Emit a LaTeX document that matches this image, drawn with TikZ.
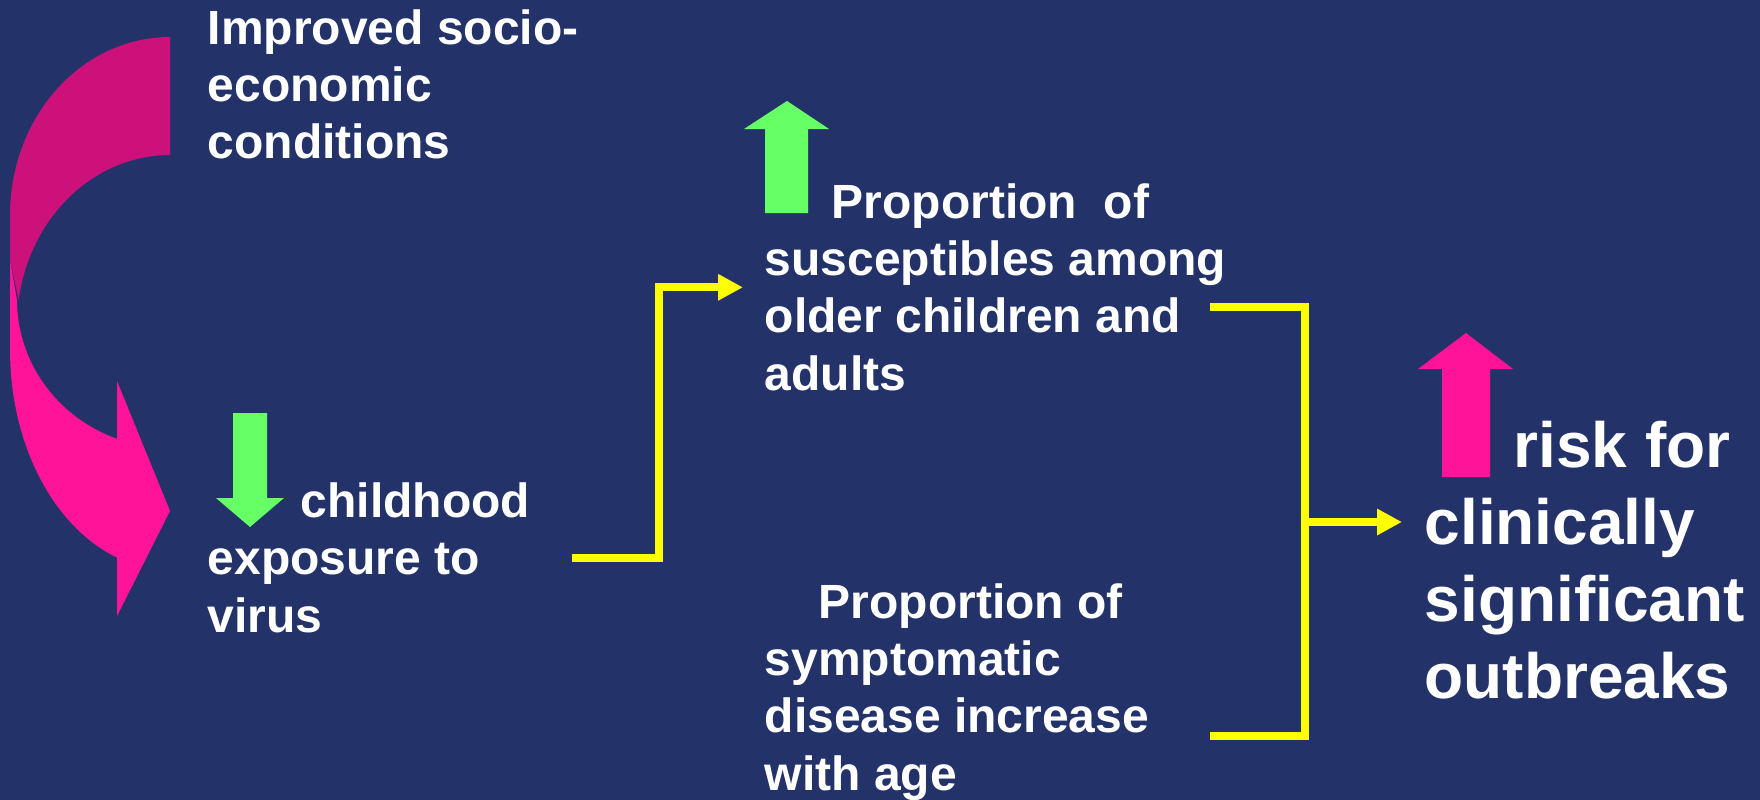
\documentclass[tikz,border=0pt]{standalone}
\usepackage{fontspec}
\setmainfont{Liberation Sans}
\usetikzlibrary{arrows.meta}

\definecolor{slidebg}{RGB}{35,51,105}
\definecolor{backpink}{RGB}{204,17,122}
\definecolor{frontpink}{RGB}{255,20,153}
\definecolor{upgreen}{RGB}{102,255,102}
\definecolor{linkyellow}{RGB}{255,255,0}

\begin{document}
\begin{tikzpicture}[
  x=1mm, y=-1mm,
  font=\bfseries\fontsize{13.66pt}{16.22pt}\selectfont,
  label/.style={text=white, align=left, inner sep=0pt, anchor=base west},
  biglabel/.style={label, font=\bfseries\fontsize{18.2pt}{21.9pt}\selectfont},
  link/.style={draw=linkyellow, line width=0.8mm},
  linkarrow/.style={link, -{Triangle[length=2.5mm, width=2.5mm]}}
]
\fill[slidebg] (0,0) rectangle (176,80);
\useasboundingbox (0,0) rectangle (176,80);
% curved arrow, back and front
\fill[backpink] (17,3.7) -- plot[domain=270:180, samples=40, variable=\t] ({17+16*cos(\t)},{21.5+17.8*sin(\t)})
  -- (1,26) -- plot[domain=188.5:270, samples=40, variable=\t] ({17+15.3*cos(\t)},{32.5+17*sin(\t)}) -- cycle;
\fill[frontpink] (1,26) -- (1,35) -- plot[domain=180:109.3, samples=40, variable=\t] ({17+16*cos(\t)},{35+22*sin(\t)})
  -- (11.7,61.6) -- (17,51.1) -- (11.7,38.1) -- (11.7,43.9)
  -- plot[domain=110.3:180, samples=40, variable=\t] ({17+15.3*cos(\t)},{30+14.8*sin(\t)}) -- cycle;
% block arrows
\fill[upgreen] (23.3,41.3) -- (26.7,41.3) -- (26.7,49.8) -- (28.4,49.8) -- (25,52.7) -- (21.6,49.8) -- (23.3,49.8) -- cycle;
\fill[upgreen] (76.5,21.3) -- (80.8,21.3) -- (80.8,12.9) -- (82.9,12.9) -- (78.7,10.1) -- (74.4,12.9) -- (76.5,12.9) -- cycle;
\fill[frontpink] (144.2,47.7) -- (149,47.7) -- (149,36.9) -- (151.3,36.9) -- (146.6,33.3) -- (141.8,36.9) -- (144.2,36.9) -- cycle;
% texts (anchored at the last baseline)
\node[label] (socio) at (20.7,15.9) {Improved socio-\\economic\\conditions};
\node[label] (expo) at (20.7,63.2) {\hspace*{9.3mm}childhood\\exposure to\\virus};
\node[label] (suscept) at (76.4,39) {\hspace*{6.7mm}Proportion\ \ of\\susceptibles among\\older children and\\adults};
\node[label] (sympt) at (76.4,79) {\hspace*{5.4mm}Proportion of\\symptomatic\\disease increase\\with age};
\node[biglabel] (risk) at (142.4,69.8) {\hspace*{8.9mm}risk for\\clinically\\significant\\outbreaks};
% connectors
\coordinate (sus-out) at (121,30.7);
\coordinate (sym-out) at (121,73.6);
\coordinate (merge) at (130.5,52.2);
\draw[linkarrow, shorten >=2.1mm] ([xshift=4.1mm]expo.east) -- ++(8.7,0) |- (suscept.west);
\draw[link] (sus-out) -| (merge) |- (sym-out);
\draw[linkarrow, shorten >=2.2mm] (merge) -- (merge -| risk.west);
\end{tikzpicture}
\end{document}
